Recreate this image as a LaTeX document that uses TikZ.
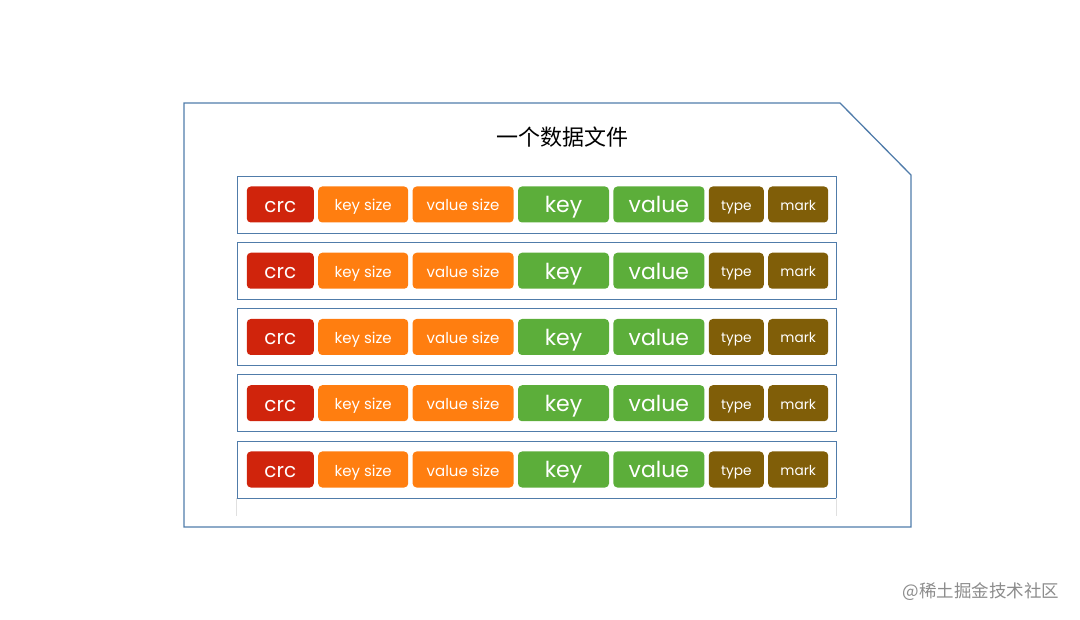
\documentclass[tikz,border=0pt]{standalone}
\usepackage{fontspec}
\setmainfont{Poppins}
\newfontfamily\cjk{Noto Sans CJK SC}
\usetikzlibrary{positioning}
\definecolor{framec}{RGB}{80,124,170}
\definecolor{crcc}{RGB}{208,36,12}
\definecolor{sizec}{RGB}{255,126,16}
\definecolor{kvc}{RGB}{92,174,58}
\definecolor{metac}{RGB}{128,94,8}
\begin{document}
\begin{tikzpicture}[x=1pt, y=-1pt,
  cell/.style = {rounded corners=4pt, text=white, minimum height=36pt, inner sep=0pt, node distance=4pt, text depth=0pt},
  rowbox/.style = {draw=framec, line width=0.8pt, minimum width=599pt, minimum height=57pt, inner sep=0pt}
]
\useasboundingbox (0,0) rectangle (1080,620);
% the file outline with its cut corner
\draw[framec, line width=1.3pt] (184,103) -- (840,103) -- (911,175) -- (911,527) -- (184,527) -- cycle;
\node (title) at (562,137) {\cjk\fontsize{22}{26}\selectfont 一个数据文件};
% one record per row
\foreach \i [evaluate=\i as \y using 204.5+66.25*(\i-1)] in {1,...,5} {
  \node[rowbox] (row\i) at (536.5,\y) {};
  \node[cell, fill=crcc, minimum width=67pt, text height=16pt, anchor=west] (crc\i) at ([xshift=10pt]row\i.west) {\fontsize{20}{22}\selectfont crc};
  \node[cell, fill=sizec, minimum width=90pt, text height=13pt, right=of crc\i] (ks\i) {\fontsize{15}{17}\selectfont key size};
  \node[cell, fill=sizec, minimum width=101pt, text height=13pt, right=of ks\i] (vs\i) {\fontsize{15}{17}\selectfont value size};
  \node[cell, fill=kvc, minimum width=91pt, text height=17pt, right=of vs\i] (k\i) {\fontsize{22}{24}\selectfont key};
  \node[cell, fill=kvc, minimum width=91pt, text height=17pt, right=of k\i] (v\i) {\fontsize{22}{24}\selectfont value};
  \node[cell, fill=metac, minimum width=55pt, text height=12pt, right=of v\i] (t\i) {\fontsize{13.7}{15}\selectfont type};
  \node[cell, fill=metac, minimum width=60pt, text height=12pt, right=of t\i] (m\i) {\fontsize{13.7}{15}\selectfont mark};
}
\draw[black!12] (row5.south west) -- ++(0,18);
\draw[black!12] (row5.south east) -- ++(0,18);
\node[text=black!45] (mark) at (981,592) {\cjk\fontsize{17.5}{20}\selectfont @稀土掘金技术社区};
\end{tikzpicture}
\end{document}
